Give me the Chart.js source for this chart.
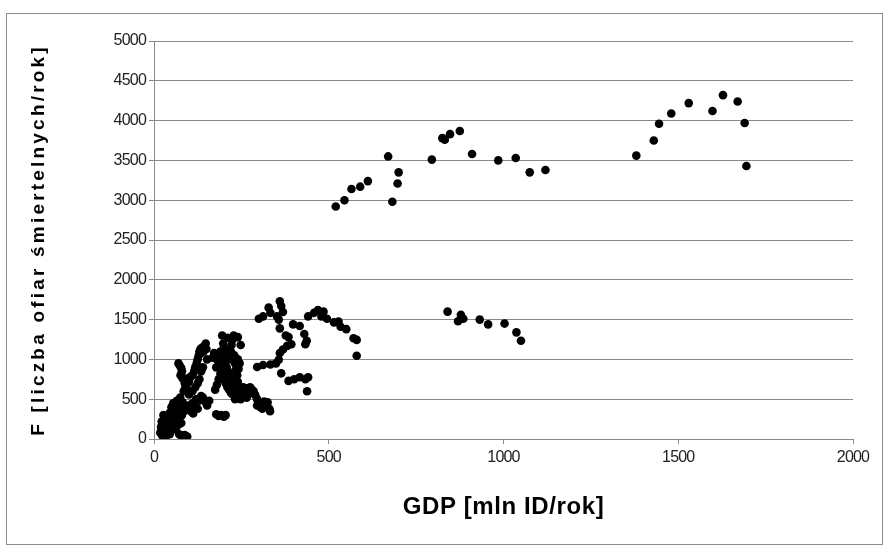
<!DOCTYPE html>
<html>
<head>
<meta charset="utf-8">
<script src="https://cdn.jsdelivr.net/npm/chart.js@4/dist/chart.umd.min.js"></script>
<style>
  html, body { margin: 0; padding: 0; background: #ffffff; }
  #wrap { position: relative; width: 888px; height: 549px; }
  #frame { position: absolute; left: 6px; top: 13px; width: 877px; height: 532px; border: 1px solid #8c8c8c; box-sizing: border-box; }
  canvas { position: absolute; left: 0; top: 0; }
</style>
</head>
<body>
<div id="wrap">
  <div id="frame"></div>
  <canvas id="c" width="888" height="549"></canvas>
</div>
<script>
// GDP [mln ID/rok]
const gdp = [
  // upper group
  520,545,565,590,612,670,682,697,700,795,825,832,847,875,910,985,1035,1075,1120,1380,1430,1445,1480,1530,1598,1628,1670,1690,1695,
  // middle-right group
  840,870,878,885,932,956,1003,1037,1050,
  // lower cluster, upper right part
  300,312,328,333,352,360,364,369,360,357,377,385,398,417,430,437,433,441,458,469,485,479,495,515,528,534,550,571,580,580,
  295,312,333,349,357,360,369,381,393,
  364,385,401,417,433,441,438,
  // dense lower-left cluster
  18,20,22,25,28,30,32,35,38,40,42,45,24,33,27,
  45,48,50,52,55,58,60,62,65,68,70,72,75,78,80,82,85,88,55,62,70,78,
  72,78,84,90,95,88,
  70,74,78,80,76,82,
  85,90,95,100,105,110,115,118,122,125,128,130,133,135,138,142,145,148,150,152,140,135,130,125,118,110,100,95,88,92,
  95,100,105,110,115,120,128,135,140,148,152,158,112,125,
  178,185,192,200,205,
  180,185,188,190,192,195,198,200,202,205,208,210,212,215,218,220,222,225,228,230,232,235,238,240,195,198,200,205,210,215,220,225,230,235,240,245,242,190,185,180,175,172,168,178,248,240,215,225,218,228,236,232,
  245,250,255,260,265,270,275,280,285,290,295,255,248,265,
  295,300,305,315,320,325,330,332,310
];
// F [liczba ofiar śmiertelnych/rok]
const fatalities = [
  2920,3000,3140,3170,3240,3550,2980,3210,3350,3510,3780,3760,3830,3870,3580,3500,3530,3350,3380,3560,3750,3960,4090,4220,4120,4320,4240,3970,3430,
  1600,1480,1560,1510,1500,1440,1450,1340,1235,
  1510,1540,1650,1585,1540,1730,1670,1595,1390,1500,1300,1280,1440,1420,1320,1235,1190,1540,1585,1620,1600,1540,1510,1465,1475,1410,1380,1265,1245,1045,
  905,930,935,950,995,1080,1125,1170,1190,
  825,730,750,775,750,775,600,
  80,150,220,120,60,250,180,100,280,200,140,60,40,30,300,
  330,250,400,180,450,300,380,220,480,350,420,270,520,390,300,460,350,420,150,120,180,200,
  60,40,30,25,30,50,
  950,920,890,850,800,760,
  600,650,700,720,780,800,850,900,950,1000,1050,1100,1130,1080,1150,1100,1170,1200,1130,1000,900,850,750,700,650,600,560,620,700,760,
  380,420,350,450,400,500,480,540,520,460,420,480,320,380,
  310,290,300,280,300,
  1000,1050,950,1100,1000,1300,1200,1150,1050,980,900,1270,850,800,1000,1100,1180,1250,1300,1050,950,880,800,720,900,800,750,700,650,620,580,560,620,680,1000,950,880,820,750,680,620,1080,1020,900,1180,1280,1120,700,750,800,560,500,
  620,580,650,640,600,560,650,620,600,550,500,540,500,520,
  420,450,400,470,430,460,380,350,380
];
const xTicks = [0, 500, 1000, 1500, 2000];
const yTicks = [0, 500, 1000, 1500, 2000, 2500, 3000, 3500, 4000, 4500, 5000];
const xTitle = 'GDP [mln ID/rok]';
const yTitle = 'F [liczba ofiar śmiertelnych/rok]';

const points = gdp.map((x, i) => ({ x: x, y: fatalities[i] }));
const gridColor = '#8a8a8a';
const tickFont = { family: "'Liberation Sans', sans-serif", size: 16 };

// apply canvas letter spacing to a scale's title / labels
function spaced(scale, titleSp, labelSp) {
  if (scale._spacedWrapped) return;
  scale._spacedWrapped = true;
  const t = scale.drawTitle, l = scale.drawLabels;
  scale.drawTitle = function () {
    const ctx = this.ctx; ctx.save(); ctx.letterSpacing = titleSp; t.apply(this, arguments); ctx.restore();
  };
  scale.drawLabels = function () {
    const ctx = this.ctx; ctx.save(); ctx.letterSpacing = labelSp; l.apply(this, arguments); ctx.restore();
  };
}

new Chart(document.getElementById('c'), {
  type: 'scatter',
  data: {
    datasets: [{
      data: points,
      backgroundColor: '#000000',
      borderColor: '#000000',
      pointRadius: 4.3,
      pointHoverRadius: 4.3,
      borderWidth: 0
    }]
  },
  options: {
    responsive: false,
    animation: false,
    devicePixelRatio: 1,
    layout: { padding: { left: 0, top: 41, right: 35, bottom: 0 } },
    plugins: { legend: { display: false }, tooltip: { enabled: false } },
    scales: {
      x: {
        type: 'linear',
        min: 0, max: 2000,
        afterBuildTicks: (s) => { s.ticks = xTicks.map(v => ({ value: v })); },
        afterFit: (s) => { s.height = 110; spaced(s, '0.6px', '-0.8px'); },
        ticks: { color: '#222222', font: tickFont, padding: 4, maxRotation: 0, callback: (v) => String(v) },
        grid: { drawOnChartArea: false, drawTicks: true, tickLength: 5, color: gridColor },
        border: { display: true, color: gridColor, width: 1 },
        title: {
          display: true, text: xTitle, color: '#000000',
          font: { family: "'Liberation Sans', sans-serif", size: 24, weight: 'bold' },
          padding: { top: 0, bottom: 27 }
        }
      },
      y: {
        type: 'linear',
        min: 0, max: 5000,
        afterBuildTicks: (s) => { s.ticks = yTicks.map(v => ({ value: v })); },
        afterFit: (s) => { s.width = 154; spaced(s, '3.2px', '-0.8px'); },
        ticks: { color: '#222222', font: tickFont, padding: 3, callback: (v) => String(v) },
        grid: { drawTicks: true, tickLength: 5, color: gridColor },
        border: { display: true, color: gridColor, width: 1 },
        title: {
          display: true, text: yTitle, color: '#000000',
          font: { family: "'Liberation Sans', sans-serif", size: 19, weight: 'bold' },
          padding: { top: 27, bottom: 0 }
        }
      }
    }
  }
});
</script>
</body>
</html>
